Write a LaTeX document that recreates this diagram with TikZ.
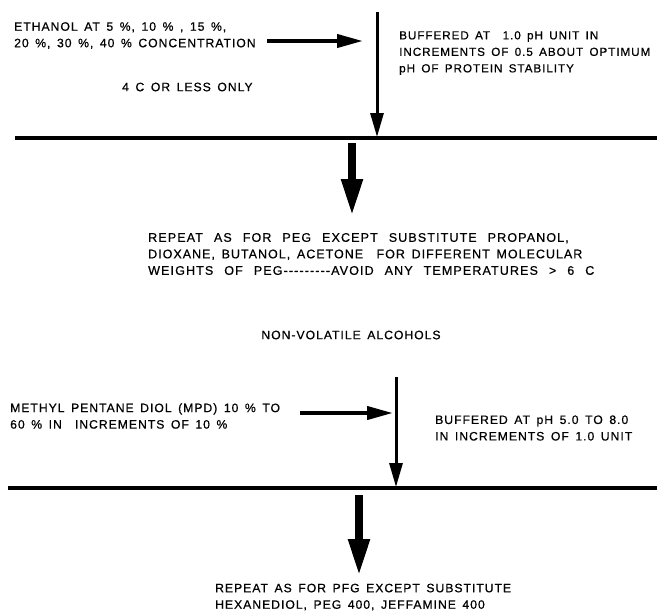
\documentclass[tikz,border=0pt]{standalone}
\usepackage{fontspec}
\usetikzlibrary{arrows.meta}
\newfontfamily\lblfont[LetterSpace=8,WordSpace=1.5,FakeBold=0.6]{Liberation Sans}
\newfontfamily\widefont[LetterSpace=9,WordSpace=2.4,FakeBold=0.6]{Liberation Sans}
\begin{document}
\begin{tikzpicture}[x=1pt,y=-1pt,
  lbl/.style={font=\lblfont\fontsize{12.2}{16.5}\selectfont,inner sep=0pt,align=left,anchor=west},
  narrowlbl/.style={lbl,font=\lblfont\fontsize{11.7}{16.5}\selectfont},
  widelbl/.style={lbl,font=\widefont\fontsize{12.5}{16.5}\selectfont},
  harrow/.style={line width=4pt,-{Triangle[length=26pt,width=13pt]}},
  varrow/.style={line width=3pt,-{Triangle[length=24pt,width=13pt]}},
  bigarrow/.style={line width=8pt,-{Triangle[length=37pt,width=20pt]}},
  baseline/.style={line width=3.7pt}]
\useasboundingbox (0,0) rectangle (663,611);
% top group
\node[lbl] (eth) at (14,35.5) {ETHANOL AT 5~\%, 10~\% , 15~\%,\\20~\%, 30~\%, 40~\% CONCENTRATION};
\node[lbl] (cold) at (122,87) {4~C OR LESS ONLY};
\node[narrowlbl] (buf1) at (399,53) {BUFFERED AT \ 1.0 pH UNIT IN\\INCREMENTS OF 0.5 ABOUT OPTIMUM\\pH OF PROTEIN STABILITY};
\coordinate (h1s) at (267,41);
\coordinate (h1e) at (363,41);
\coordinate (v1s) at (377,12);
\coordinate (v1e) at (377,137);
\coordinate (l1a) at (15,138);
\coordinate (l1b) at (657,138);
\coordinate (d1s) at (352,143);
\coordinate (d1e) at (352,216);
\draw[harrow] (h1s) -- (h1e);
\draw[varrow] (v1s) -- (v1e);
\draw[baseline] (l1a) -- (l1b);
\draw[bigarrow] (d1s) -- (d1e);
\node[widelbl] (rep1) at (148,254) {REPEAT AS FOR PEG EXCEPT SUBSTITUTE PROPANOL,\\{\lblfont\fontsize{12.5}{16.5}\selectfont DIOXANE, BUTANOL, ACETONE \ FOR DIFFERENT MOLECULAR}\\WEIGHTS OF PEG---------AVOID ANY TEMPERATURES > 6~C};
% bottom group
\node[lbl,anchor=center] (nva) at (351,335) {NON-VOLATILE ALCOHOLS};
\node[lbl] (mpd) at (10,416) {METHYL PENTANE DIOL (MPD) 10~\% TO\\60~\% IN \ INCREMENTS OF 10 \%};
\node[lbl] (buf2) at (435,428) {BUFFERED AT pH 5.0 TO 8.0\\IN INCREMENTS OF 1.0 UNIT};
\coordinate (h2s) at (300,413);
\coordinate (h2e) at (393,413);
\coordinate (v2s) at (396,377);
\coordinate (v2e) at (396,487);
\coordinate (l2a) at (8,488);
\coordinate (l2b) at (657,488);
\coordinate (d2s) at (359,495);
\coordinate (d2e) at (359,576);
\draw[harrow] (h2s) -- (h2e);
\draw[varrow] (v2s) -- (v2e);
\draw[baseline] (l2a) -- (l2b);
\draw[bigarrow] (d2s) -- (d2e);
\node[lbl] (rep2) at (215,597) {REPEAT AS FOR PFG EXCEPT SUBSTITUTE\\HEXANEDIOL, PEG 400, JEFFAMINE 400};
\end{tikzpicture}
\end{document}
